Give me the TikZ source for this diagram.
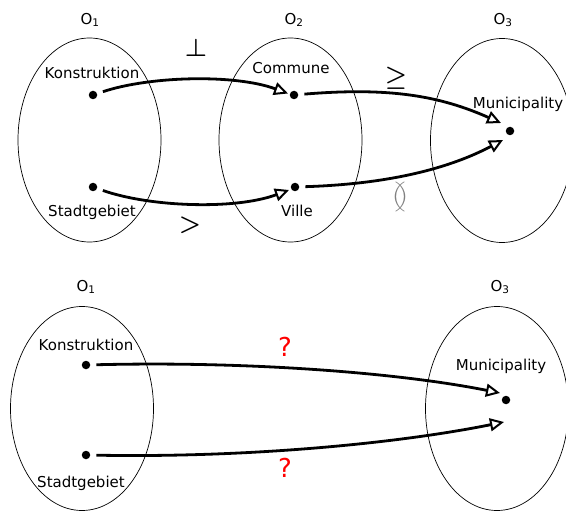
\documentclass[tikz,border=0pt]{standalone}
\usepackage{amsmath}
\usepackage{amssymb}
\usepackage{fontspec}
\setmainfont{DejaVu Sans}
\usetikzlibrary{shapes.geometric,arrows.meta}
\begin{document}
\begin{tikzpicture}[x=1pt,y=-1pt,
  set/.style={draw, ellipse, line width=0.7pt, minimum width=143pt, minimum height=204pt, inner sep=0pt},
  lbl/.style={font=\fontsize{15}{17}\selectfont, inner sep=0pt},
  dotn/.style={circle, fill=black, minimum size=8.5pt, inner sep=0pt},
  arr/.style={line width=2.8pt, -{Triangle[open, length=14pt, width=13pt, line width=2pt]}},
  sym/.style={font=\fontsize{30}{32}\selectfont, inner sep=0pt},
  qm/.style={font=\fontsize{26}{28}\selectfont, text=red, inner sep=0pt}]
\useasboundingbox (0,0) rectangle (566,511);
\clip (0,0) rectangle (566,511);
% top row
\node[set] (e1) at (89.5,140) {};
\node[set] (e2) at (290.5,140) {};
\node[set] (e3) at (502,140.5) {};
\node[lbl] (o1) at (90,20) {O\textsubscript{1}};
\node[lbl] (o2) at (294,20) {O\textsubscript{2}};
\node[lbl] (o3) at (503,20) {O\textsubscript{3}};
\node[lbl] (tk) at (92,73) {Konstruktion};
\node[lbl] (ts) at (92,212) {Stadtgebiet};
\node[lbl] (tc) at (291,68) {Commune};
\node[lbl] (tv) at (297,211) {Ville};
\node[lbl] (tm) at (518,104) {Municipality};
\node[dotn] (dk) at (93,95) {};
\node[dotn] (ds) at (93,187) {};
\node[dotn] (dc) at (294,95) {};
\node[dotn] (dv) at (295,187) {};
\node[dotn] (dm) at (510,131) {};
\coordinate (ek) at (288,93.5);
\coordinate (es) at (289,190);
\coordinate (ec) at (501,123);
\coordinate (ev) at (503,140);
\draw[arr, shorten <=6pt] (dk) .. controls (150,76) and (235,74) .. (ek);
\draw[arr, shorten <=6pt] (ds) .. controls (150,207) and (235,210) .. (es);
\draw[arr, shorten <=6pt] (dc) .. controls (390,87) and (440,96) .. (ec);
\draw[arr, shorten <=6pt] (dv) .. controls (390,184) and (450,168) .. (ev);
\node[sym] (s1) at (196,48) {$\boldsymbol{\perp}$};
\node[sym] (s2) at (190,225) {$\boldsymbol{>}$};
\node[sym] (s3) at (396,78) {$\boldsymbol{\geq}$};
\node[sym, text=gray] (s4) at (400,197) {$\between$};
% bottom row
\node[set] (f1) at (82,408.5) {};
\node[set] (f3) at (497,408.5) {};
\node[lbl] (p1) at (86,287) {O\textsubscript{1}};
\node[lbl] (p3) at (500,287) {O\textsubscript{3}};
\node[lbl] (uk) at (86,345) {Konstruktion};
\node[lbl] (us) at (81,483) {Stadtgebiet};
\node[lbl] (um) at (501,366) {Municipality};
\node[dotn] (bk) at (86,365) {};
\node[dotn] (bs) at (86,455) {};
\node[dotn] (bm) at (506,400) {};
\coordinate (fk) at (500,393);
\coordinate (fs) at (504,422);
\draw[arr, shorten <=6pt] (bk) .. controls (250,361) and (400,373) .. (fk);
\draw[arr, shorten <=6pt] (bs) .. controls (250,458) and (400,443) .. (fs);
\node[qm] (q1) at (285,347) {?};
\node[qm] (q2) at (285,468) {?};
\end{tikzpicture}
\end{document}
